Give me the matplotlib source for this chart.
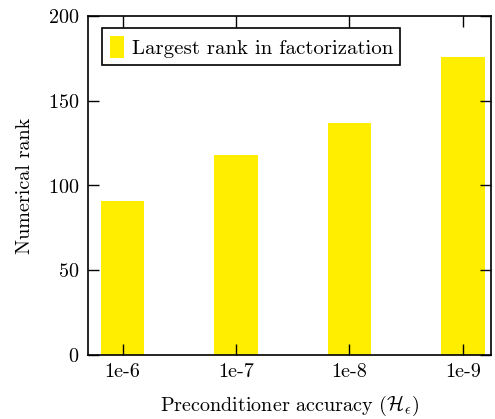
import matplotlib
matplotlib.use('Agg')
import matplotlib.pyplot as plt
import numpy as np

# dados
categorias = ['1e-6', '1e-7', '1e-8', '1e-9']
maior_posto = [91, 118, 137, 176]

plt.rcParams['font.family'] = ['cmr10', 'DejaVu Serif']
plt.rcParams['mathtext.fontset'] = 'cm'
plt.rcParams['axes.formatter.use_mathtext'] = True
plt.rcParams['font.size'] = 14.5

fig = plt.figure(figsize=(4.95, 4.19), dpi=100)
ax = fig.add_axes([88 / 495, 1 - 355 / 419, (491 - 88) / 495, (355 - 16) / 419])

x = np.arange(len(categorias))
ax.bar(x, maior_posto, width=0.38, color='#ffee00', label='Largest rank in factorization')

ax.set_xlim(-0.304, 3.247)
ax.set_ylim(0, 200)
ax.set_yticks([0, 50, 100, 150, 200])
ax.set_xticks(x)
ax.set_xticklabels(categorias)
ax.tick_params(direction='in', top=True, right=True, length=8, width=1, labelsize=14.5, pad=6)
for s in ax.spines.values():
    s.set_linewidth(1.2)

ax.set_xlabel(r'Preconditioner accuracy ($\mathcal{H}_\epsilon$)', fontsize=14.5, labelpad=9)
ax.set_ylabel('Numerical rank', fontsize=14.5, labelpad=10)

leg = ax.legend(loc='upper left', fancybox=False, framealpha=1, edgecolor='black',
                handlelength=0.7, handleheight=1.25, handletextpad=0.35,
                borderpad=0.35, fontsize=15, bbox_to_anchor=(0.01, 0.994))
leg.get_frame().set_linewidth(1.2)

fig.savefig('out.png', dpi=100)
